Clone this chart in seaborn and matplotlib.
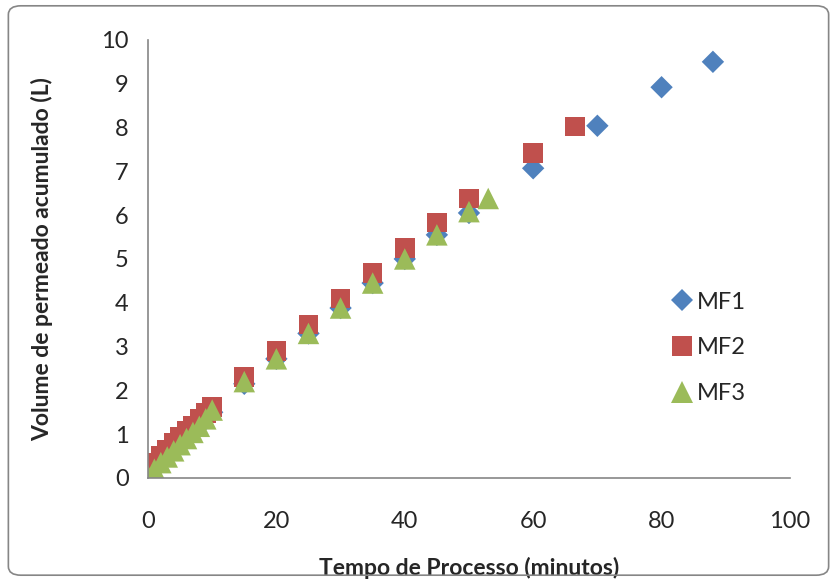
import pandas as pd
import matplotlib
matplotlib.use('Agg')
import matplotlib.pyplot as plt
import seaborn as sns
from matplotlib.patches import FancyBboxPatch

# tempo (min) e volume acumulado (L)
t_mf1 = [0, 1, 2, 3, 4, 5, 6, 7, 8, 9, 10, 15, 20, 25, 30, 35, 40, 45, 50, 60, 70, 80, 88]
v_mf1 = [0.05, 0.2, 0.35, 0.5, 0.63, 0.77, 0.9, 1.05, 1.2, 1.35, 1.5, 2.15, 2.72, 3.3, 3.88, 4.45, 5.0, 5.55, 6.05, 7.07, 8.04, 8.92, 9.5]

t_mf2 = [0, 1, 2, 3, 4, 5, 6, 7, 8, 9, 10, 15, 20, 25, 30, 35, 40, 45, 50, 60, 66.5]
v_mf2 = [0.18, 0.35, 0.5, 0.65, 0.8, 0.93, 1.07, 1.2, 1.35, 1.48, 1.62, 2.3, 2.9, 3.5, 4.1, 4.68, 5.25, 5.83, 6.38, 7.42, 8.02]

t_mf3 = [0, 1, 2, 3, 4, 5, 6, 7, 8, 9, 10, 15, 20, 25, 30, 35, 40, 45, 50, 53]
v_mf3 = [0.05, 0.2, 0.35, 0.48, 0.62, 0.76, 0.9, 1.04, 1.18, 1.35, 1.55, 2.2, 2.72, 3.3, 3.88, 4.45, 5.0, 5.55, 6.08, 6.38]

df = pd.concat([
    pd.DataFrame({'tempo': t_mf1, 'volume': v_mf1, 'serie': 'MF1'}),
    pd.DataFrame({'tempo': t_mf2, 'volume': v_mf2, 'serie': 'MF2'}),
    pd.DataFrame({'tempo': t_mf3, 'volume': v_mf3, 'serie': 'MF3'}),
])

sns.set_style('white')
plt.rcParams['font.family'] = ['Lato', 'DejaVu Sans']

cores = {'MF1': '#4F81BD', 'MF2': '#C0504D', 'MF3': '#9BBB59'}
marcas = {'MF1': 'D', 'MF2': 's', 'MF3': '^'}
tamanhos = {'MF1': 130, 'MF2': 200, 'MF3': 240}

fig = plt.figure(figsize=(8.37, 5.81), dpi=100)
ax = fig.add_axes([0.1768, 0.1773, 0.767, 0.754])

sns.scatterplot(data=df, x='tempo', y='volume', hue='serie', style='serie', size='serie',
                palette=cores, markers=marcas, sizes=tamanhos, linewidth=0, ax=ax)

ax.set_xlim(0, 100)
ax.set_ylim(0, 10)
ax.set_xticks(range(0, 101, 20))
ax.set_yticks(range(0, 11))
ax.tick_params(direction='out', length=5, width=1.2, color='#868686', labelsize=17)
ax.tick_params(axis='y', pad=9)
ax.tick_params(axis='x', pad=19)
for side in ['top', 'right']:
    ax.spines[side].set_visible(False)
for side in ['left', 'bottom']:
    ax.spines[side].set_color('#868686')
    ax.spines[side].set_linewidth(1.2)

ax.set_xlabel('Tempo de Processo (minutos)', fontsize=16.5, fontweight='bold')
ax.set_ylabel('Volume de permeado acumulado (L)', fontsize=16.5, fontweight='bold')
ax.xaxis.set_label_coords(0.5, -0.18)
ax.yaxis.set_label_coords(-0.148, 0.5)

leg = ax.legend(loc='center left', bbox_to_anchor=(0.795, 0.297), frameon=False, fontsize=17,
                handlelength=1.0, handletextpad=0.15, labelspacing=1.05, borderpad=0)

borda = FancyBboxPatch((0.01, 0.01), 0.98, 0.98, boxstyle='round,pad=0,rounding_size=0.015',
                       transform=fig.transFigure, fill=False, edgecolor='#868686', linewidth=1.2)
fig.patches.append(borda)

fig.savefig('out.png', dpi=100)
